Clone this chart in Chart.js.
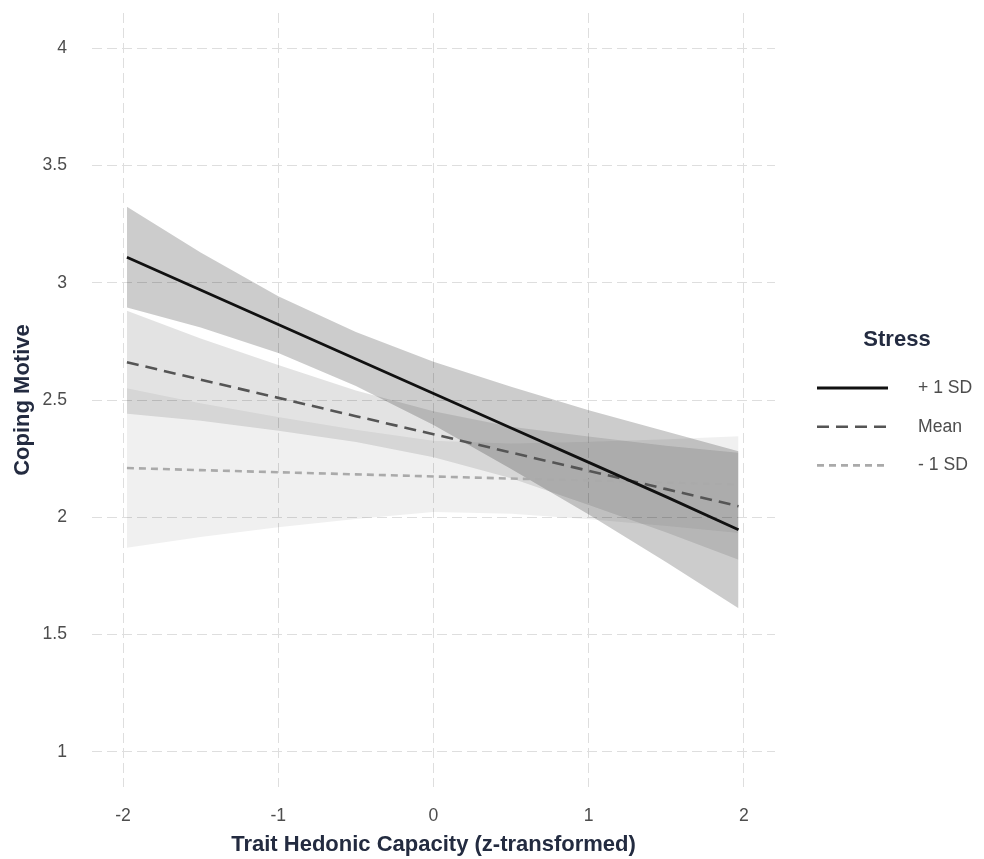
<!DOCTYPE html>
<html>
<head>
<meta charset="utf-8">
<script src="https://cdn.jsdelivr.net/npm/chart.js@4.4.0/dist/chart.umd.min.js"></script>
<style>
html,body{margin:0;padding:0;background:#ffffff;}
#wrap{width:984px;height:859px;position:relative;}
</style>
</head>
<body>
<div id="wrap"><canvas id="c" width="984" height="859"></canvas></div>
<script>
// ---- data ----
const xValues      = [-1.975, -1.5, -1, -0.5, 0, 0.5, 1, 1.5, 1.965];
const plusSD       = [3.109, 2.969, 2.822, 2.675, 2.528, 2.381, 2.234, 2.087, 1.947];
const plusSDUpper  = [3.324, 3.129, 2.942, 2.790, 2.663, 2.556, 2.456, 2.366, 2.282];
const plusSDLower  = [2.894, 2.809, 2.700, 2.560, 2.393, 2.206, 2.012, 1.808, 1.612];
const meanSD       = [2.661, 2.587, 2.509, 2.431, 2.354, 2.276, 2.198, 2.120, 2.047];
const meanUpper    = [2.881, 2.762, 2.649, 2.541, 2.452, 2.386, 2.344, 2.305, 2.275];
const meanLower    = [2.441, 2.412, 2.369, 2.321, 2.256, 2.166, 2.052, 1.935, 1.819];
const minusSD      = [2.210, 2.201, 2.192, 2.183, 2.174, 2.165, 2.157, 2.148, 2.139];
const minusSDUpper = [2.550, 2.486, 2.427, 2.373, 2.326, 2.315, 2.322, 2.333, 2.345];
const minusSDLower = [1.870, 1.916, 1.957, 1.993, 2.022, 2.015, 1.992, 1.963, 1.933];

const seriesLabels = ['+ 1 SD', 'Mean', '- 1 SD'];
const legendTitle = 'Stress';
const xTitle = 'Trait Hedonic Capacity (z-transformed)';
const yTitle = 'Coping Motive';
const xTicks = [-2, -1, 0, 1, 2];
const yTicks = [1, 1.5, 2, 2.5, 3, 3.5, 4];

// ---- build ----
const pts = ys => xValues.map((x, i) => ({x: x, y: ys[i]}));
const FONT = '"Liberation Sans", Arial, Helvetica, sans-serif';
const titleColor = '#232b40';
const tickColor = '#4d4d4d';
const gridColor = '#dedede';
const gridDash = [10, 5];

const lineStyles = [
  {color: '#111111', width: 2.8, dash: []},
  {color: '#555555', width: 2.6, dash: [12, 7]},
  {color: '#aaaaaa', width: 2.6, dash: [7, 5]}
];
const bandFills = ['rgba(0,0,0,0.20)', 'rgba(0,0,0,0.11)', 'rgba(0,0,0,0.06)'];

const lineSeries = [plusSD, meanSD, minusSD];
const bandSeries = [[plusSDUpper, plusSDLower], [meanUpper, meanLower], [minusSDUpper, minusSDLower]];

const datasets = [];
lineSeries.forEach((s, i) => {
  datasets.push({
    label: seriesLabels[i], data: pts(s),
    borderColor: lineStyles[i].color, borderWidth: lineStyles[i].width,
    borderDash: lineStyles[i].dash, pointRadius: 0, fill: false, tension: 0
  });
});
bandSeries.forEach((b, i) => {
  const upIdx = datasets.length;
  datasets.push({
    label: seriesLabels[i] + ' upper', data: pts(b[0]),
    borderColor: 'rgba(0,0,0,0)', borderWidth: 0, pointRadius: 0, fill: false
  });
  datasets.push({
    label: seriesLabels[i] + ' lower', data: pts(b[1]),
    borderColor: 'rgba(0,0,0,0)', borderWidth: 0, pointRadius: 0,
    fill: upIdx, backgroundColor: bandFills[i]
  });
});

const legendPlugin = {
  id: 'stressLegend',
  afterDraw(chart) {
    const ctx = chart.ctx;
    ctx.save();
    ctx.font = 'bold 22px ' + FONT;
    ctx.fillStyle = titleColor;
    ctx.textAlign = 'center';
    ctx.textBaseline = 'middle';
    ctx.fillText(legendTitle, 897, 340);
    seriesLabels.forEach((lab, i) => {
      const y = 388 + i * 38.7;
      ctx.strokeStyle = lineStyles[i].color;
      ctx.lineWidth = lineStyles[i].width;
      ctx.setLineDash(lineStyles[i].dash);
      ctx.beginPath();
      ctx.moveTo(817, y);
      ctx.lineTo(888, y);
      ctx.stroke();
      ctx.setLineDash([]);
      ctx.font = '17.6px ' + FONT;
      ctx.fillStyle = tickColor;
      ctx.textAlign = 'left';
      ctx.fillText(lab, 918, y);
    });
    ctx.restore();
  }
};

new Chart(document.getElementById('c'), {
  type: 'line',
  data: {datasets: datasets},
  plugins: [legendPlugin],
  options: {
    responsive: false,
    animation: false,
    events: [],
    layout: {padding: {left: 0, right: 209, top: 13, bottom: 0}},
    plugins: {legend: {display: false}, tooltip: {enabled: false}, filler: {propagate: false}},
    scales: {
      x: {
        type: 'linear', min: -2.2, max: 2.2,
        afterFit: s => { s.height = 72; },
        afterBuildTicks: s => { s.ticks = xTicks.map(v => ({value: v})); },
        ticks: {includeBounds: false, stepSize: 1, padding: 0, color: tickColor,
                font: {family: FONT, size: 17.6}, maxRotation: 0,
                callback: v => String(v)},
        grid: {color: gridColor, lineWidth: 1, drawTicks: true, tickLength: 19, tickColor: 'rgba(0,0,0,0)'},
        border: {display: false, dash: gridDash},
        title: {display: true, text: xTitle, color: titleColor,
                font: {family: FONT, size: 22, weight: 'bold'}, padding: {top: 0, bottom: 1}}
      },
      y: {
        type: 'linear', min: 0.85, max: 4.15,
        afterFit: s => { s.width = 92; },
        afterBuildTicks: s => { s.ticks = yTicks.map(v => ({value: v})); },
        ticks: {includeBounds: false, stepSize: 0.5, padding: 0, color: tickColor,
                font: {family: FONT, size: 17.6},
                callback: v => String(v)},
        grid: {color: gridColor, lineWidth: 1, drawTicks: true, tickLength: 25, tickColor: 'rgba(0,0,0,0)'},
        border: {display: false, dash: gridDash},
        title: {display: true, text: yTitle, color: titleColor,
                font: {family: FONT, size: 22, weight: 'bold'}, padding: {top: 10, bottom: 0}}
      }
    }
  }
});
</script>
</body>
</html>
